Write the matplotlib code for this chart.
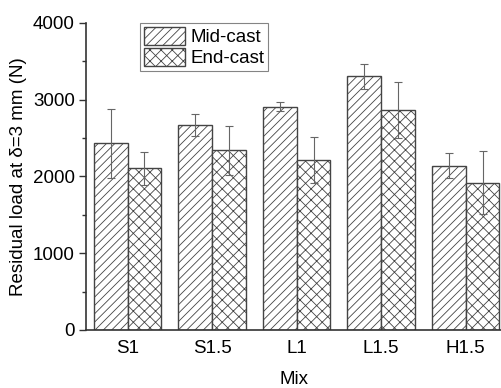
import numpy as np
import matplotlib.pyplot as plt

plt.rcParams['font.family'] = ['Liberation Sans', 'DejaVu Sans']
plt.rcParams['hatch.linewidth'] = 0.6
plt.rcParams['hatch.color'] = '#555555'

# data
mixes = ['S1', 'S1.5', 'L1', 'L1.5', 'H1.5']
mid_cast = [2430, 2670, 2910, 3305, 2140]
mid_err = [450, 145, 55, 160, 165]
end_cast = [2105, 2340, 2220, 2865, 1920]
end_err = [210, 320, 300, 360, 410]

x = np.arange(len(mixes))
w = 0.4
fs = 13.5

fig = plt.figure(figsize=(5.02, 3.88), dpi=100)
ax = fig.add_axes([0.171, 0.1495, 0.829, 0.7915])

err_kw = dict(ecolor='#666666', elinewidth=0.8, capsize=3, capthick=0.8)
ax.bar(x - w/2, mid_cast, w, yerr=mid_err, color='white', edgecolor='#444444',
       linewidth=1.0, hatch='////', label='Mid-cast', error_kw=err_kw)
ax.bar(x + w/2, end_cast, w, yerr=end_err, color='white', edgecolor='#444444',
       linewidth=1.0, hatch='xxx', label='End-cast', error_kw=err_kw)

ax.set_xlim(-0.494, 4.43)
ax.set_ylim(0, 4000)
ax.set_yticks([0, 1000, 2000, 3000, 4000])
ax.set_yticks(np.arange(500, 4000, 1000), minor=True)
ax.set_xticks(x)
ax.set_xticklabels(mixes)

for s in ['top', 'right']:
    ax.spines[s].set_visible(False)
for s in ['left', 'bottom']:
    ax.spines[s].set_color('#333333')
    ax.spines[s].set_linewidth(1.2)

ax.tick_params(axis='y', which='major', length=5, width=1, color='#333333', labelsize=fs, pad=3)
ax.tick_params(axis='y', which='minor', length=3, width=1, color='#333333')
ax.tick_params(axis='x', length=0, labelsize=fs, pad=7)

ax.set_ylabel('Residual load at δ=3 mm (N)', fontsize=fs, labelpad=4)
ax.set_xlabel('Mix', fontsize=fs, labelpad=10)

leg = ax.legend(loc='upper left', bbox_to_anchor=(0.279, 0.941), bbox_transform=fig.transFigure,
                fontsize=fs, frameon=True, fancybox=False, edgecolor='#666666',
                handlelength=2.2, handleheight=1.1, labelspacing=0.1,
                borderpad=0.2, handletextpad=0.3, borderaxespad=0)
leg.get_frame().set_linewidth(0.8)

fig.savefig('out.png', dpi=100)
